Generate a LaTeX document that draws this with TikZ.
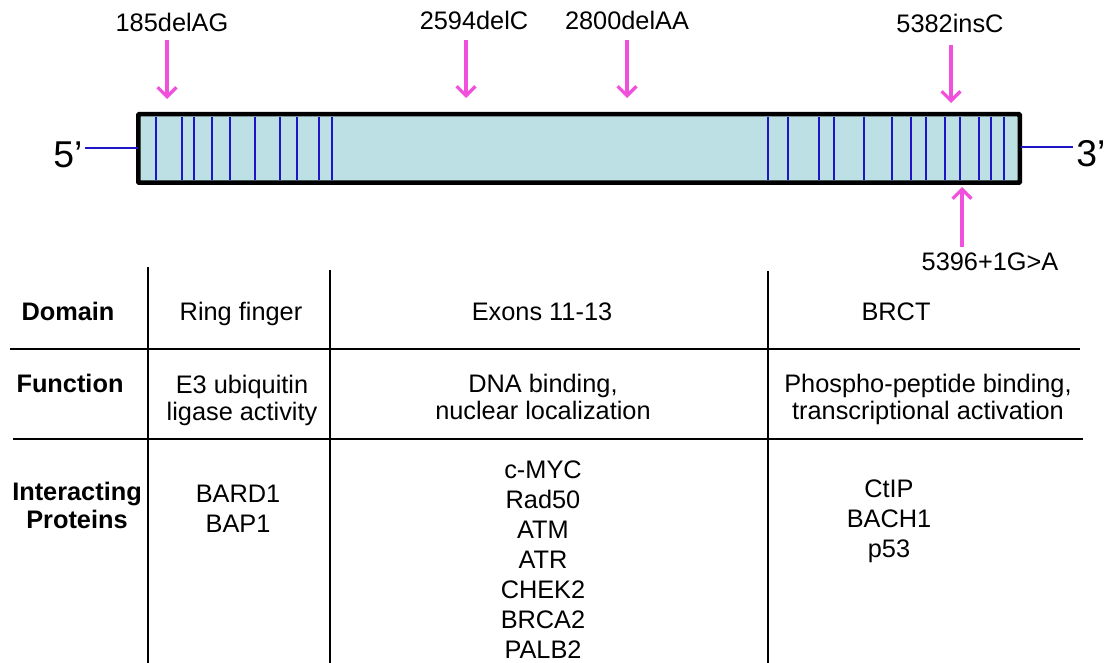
\documentclass[tikz,border=0pt]{standalone}
\usepackage{fontspec}
\setmainfont{Liberation Sans}
\usepackage{tikz}
\usetikzlibrary{arrows.meta}
\definecolor{GeneFill}{HTML}{BCE0E4}
\definecolor{ExonBlue}{HTML}{1E14C8}
\definecolor{MutPink}{HTML}{F050DC}

\begin{document}
\begin{tikzpicture}[x=0.75pt,y=-0.75pt,
  lbl/.style={anchor=base,align=center,font=\fontsize{19}{22.5}\selectfont},
  fn/.style={lbl,font=\fontsize{19}{20.25}\selectfont},
  hdr/.style={lbl,font=\fontsize{19}{21}\selectfont\bfseries},
  endlbl/.style={anchor=base,font=\fontsize{28}{30}\selectfont},
  mut/.style={MutPink,line width=2.5pt,-{Straight Barb[length=7pt,width=14pt]}},
  exon/.style={ExonBlue,line width=1.5pt},
  strand/.style={ExonBlue,line width=1.5pt},
  rule/.style={black,line width=1.5pt}]
\path[use as bounding box] (0,0) rectangle (1107,663);
% gene
\node[draw=black,fill=GeneFill,line width=2.25pt,rounded corners=1pt,
  minimum width=660pt,minimum height=50.25pt,inner sep=0pt] (gene) at (579,148.5) {};
\foreach \x in {156,182,194,212,230,255,280,297,319,332,
  768,788,819,834,864,892,911,926,945,960,979,991,1004}
  \draw[exon] (\x,117) -- (\x,180);
\draw[draw=black,line width=2.25pt,rounded corners=1pt] (gene.north west) rectangle (gene.south east);
\coordinate (s5) at (85,148);
\coordinate (s3) at (1073,147);
\draw[strand] (s5) -- (gene.west |- s5);
\draw[strand] (gene.east |- s3) -- (s3);
\node[endlbl] (p5) at (68,168) {5’};
\node[endlbl] (p3) at (1091,167) {3’};
% mutations
\node[lbl] (m185) at (172,32) {185delAG};
\node[lbl] (m2594) at (474,30) {2594delC};
\node[lbl] (m2800) at (627,30) {2800delAA};
\node[lbl] (m5382) at (950,33) {5382insC};
\node[lbl] (m5396) at (990,271) {5396+1G>A};
\coordinate (a185) at (167,40);   \coordinate (b185) at (167,99);
\coordinate (a2594) at (466,40);  \coordinate (b2594) at (466,98);
\coordinate (a2800) at (627,40);  \coordinate (b2800) at (627,98);
\coordinate (a5382) at (951,45);  \coordinate (b5382) at (951,103);
\coordinate (a5396) at (962,247); \coordinate (b5396) at (962,187);
\foreach \m in {185,2594,2800,5382,5396}
  \draw[mut] (a\m) -- (b\m);
% table (base of a node with several lines = its last line)
\draw[rule] (148,267) -- (148,663);
\draw[rule] (330,270) -- (330,663);
\draw[rule] (768,271) -- (768,663);
\draw[rule] (10,349) -- (1080,349);
\draw[rule] (13,439) -- (1083,439);
\node[hdr] (dom) at (68,320) {Domain};
\node[lbl] (ring) at (241,320) {Ring finger};
\node[lbl] (exons) at (542,320) {Exons 11-13};
\node[lbl] (brct) at (896,320) {BRCT};
\node[hdr] (func) at (70,392) {Function};
\node[fn] (fring) at (242,420) {E3 ubiquitin\\ligase activity};
\node[fn] (fexons) at (543,419) {DNA binding,\\nuclear localization};
\node[fn] (fbrct) at (928,419) {Phospho-peptide binding,\\transcriptional activation};
\node[hdr] (inter) at (77,528) {Interacting\\Proteins};
\node[lbl] (iring) at (238,532) {BARD1\\BAP1};
\node[lbl] (iexons) at (543,658) {c-MYC\\Rad50\\ATM\\ATR\\CHEK2\\BRCA2\\PALB2};
\node[lbl] (ibrct) at (889,557) {CtIP\\BACH1\\p53};
\end{tikzpicture}
\end{document}
